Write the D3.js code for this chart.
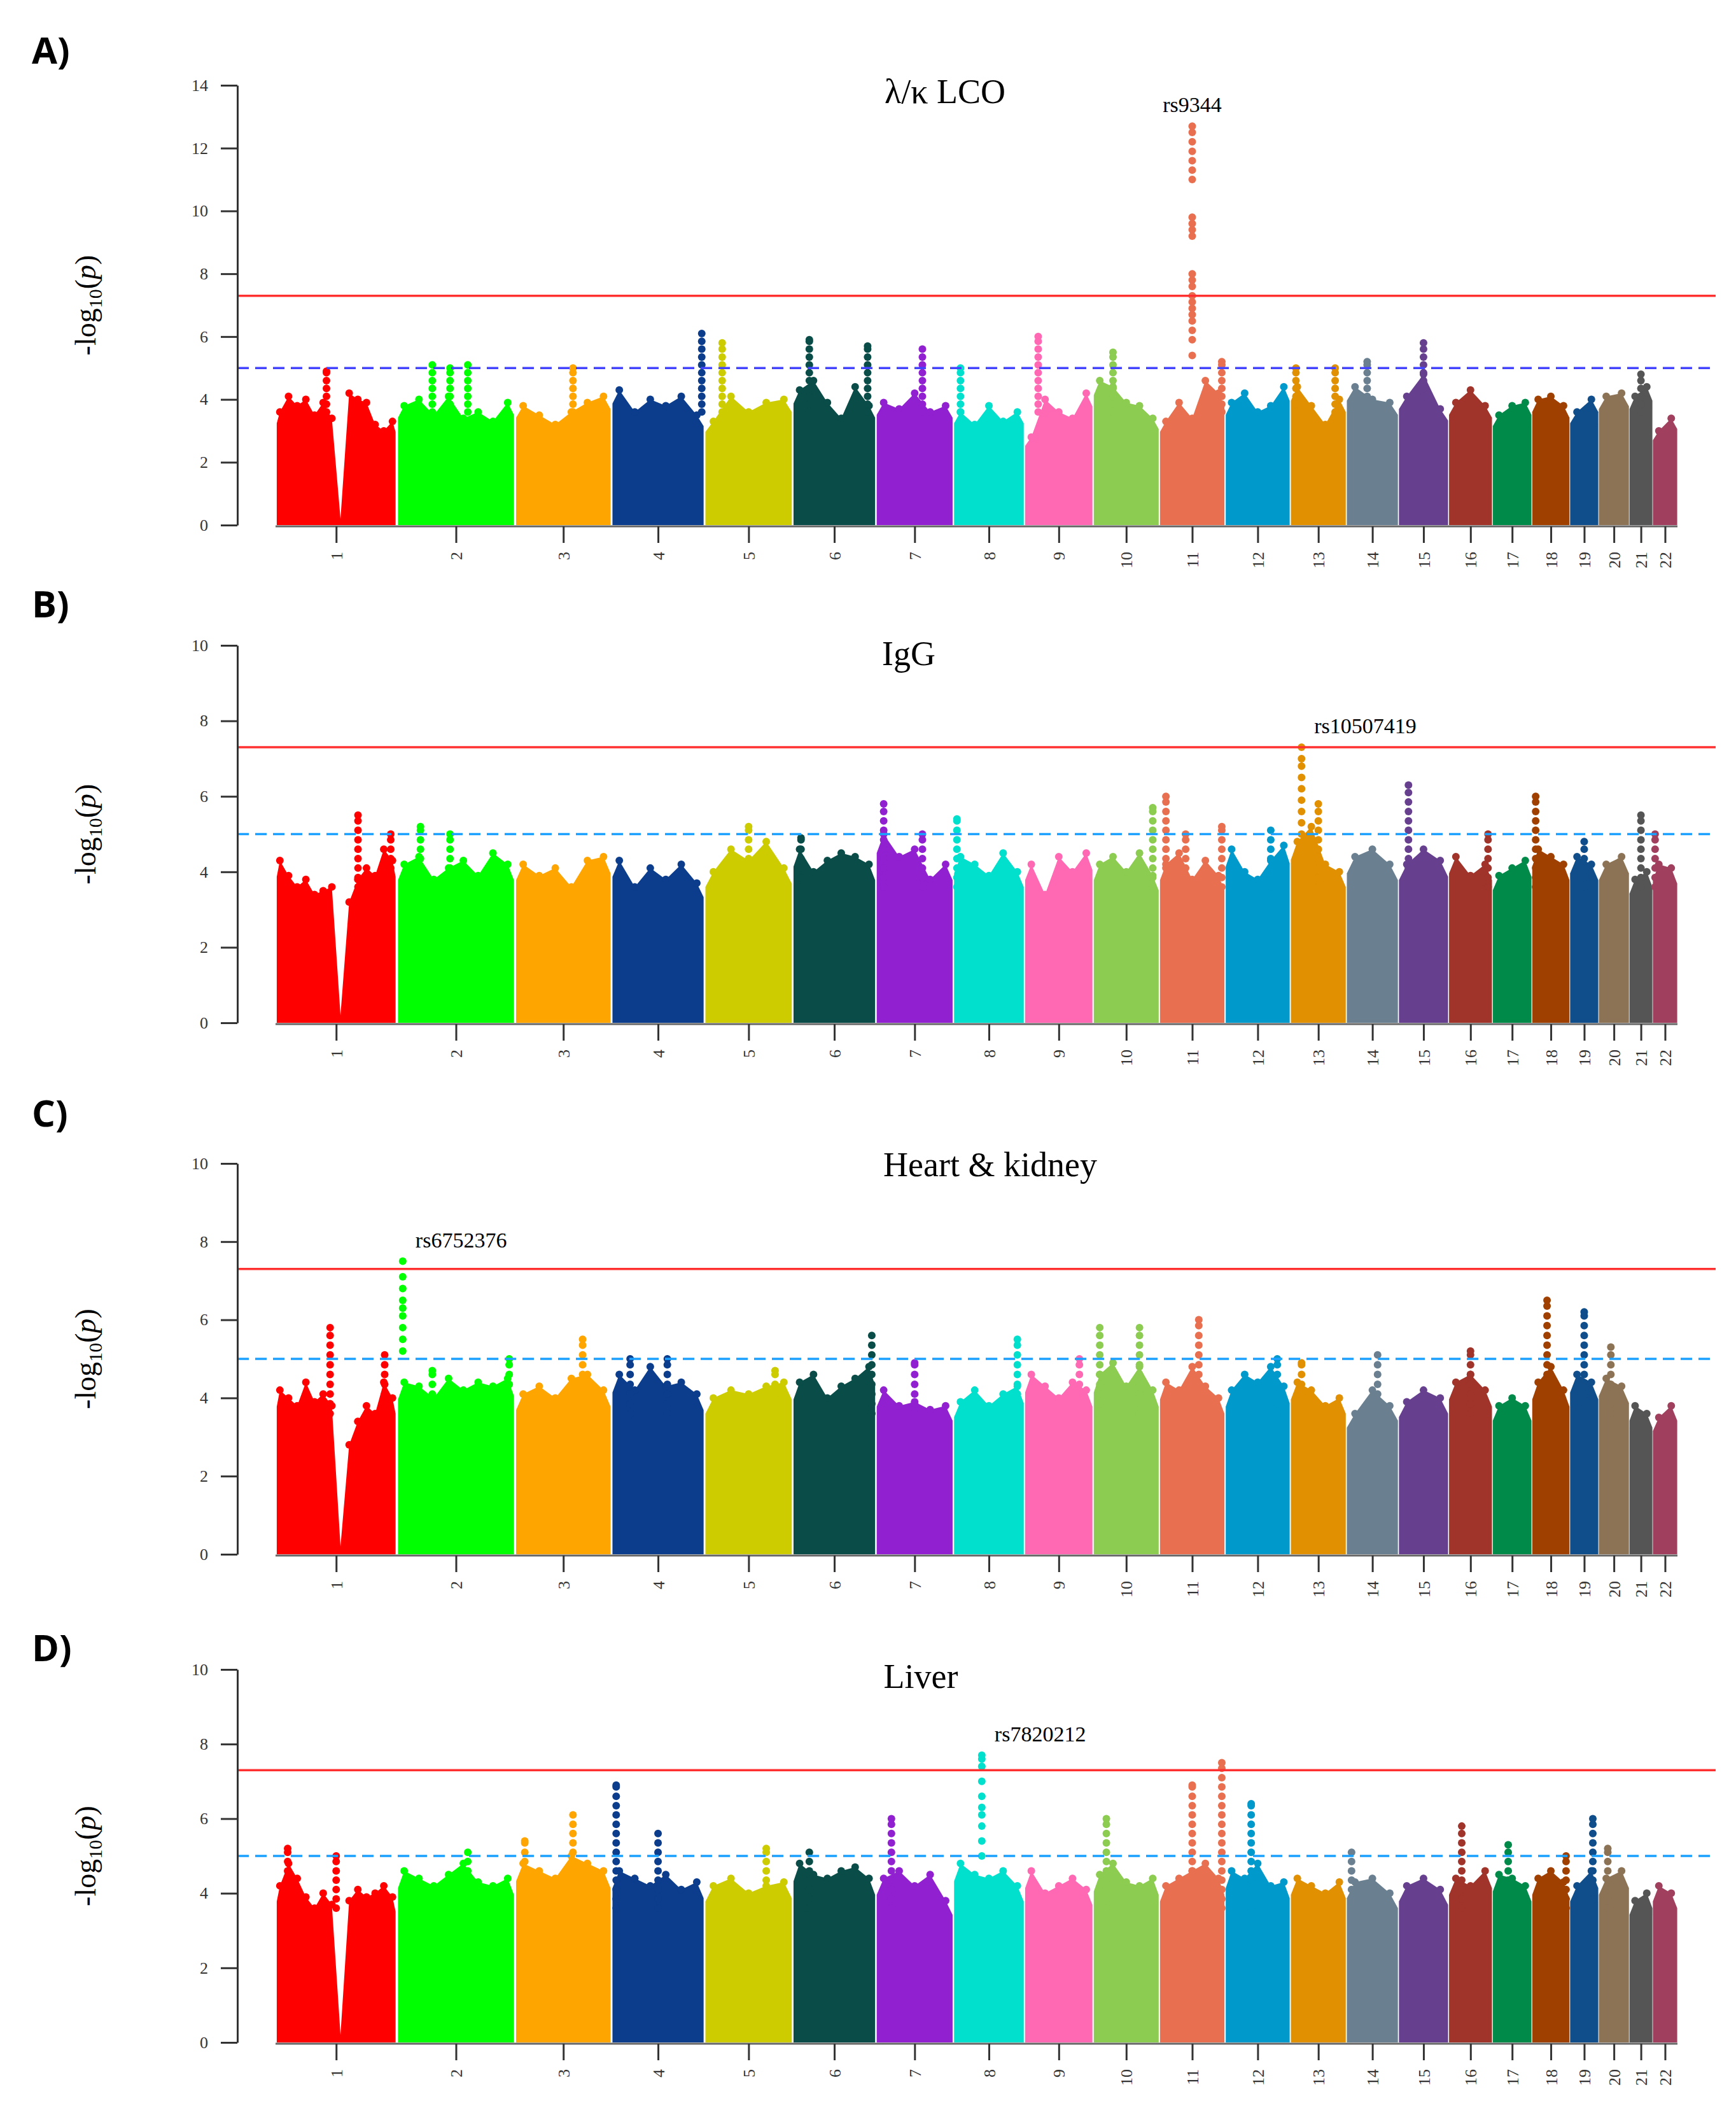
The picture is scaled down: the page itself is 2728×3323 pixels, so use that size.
<!DOCTYPE html>
<html><head><meta charset="utf-8">
<script src="https://cdn.jsdelivr.net/npm/d3@7"></script>
<style>body{margin:0;background:#fff}</style>
</head><body>
<script>
var W = 2728, H = 3323;

// chromosome lengths (Mb)
var chrLen = [249,243,198,191,181,171,159,146,141,136,135,134,115,107,103,90,81,78,59,63,48,51];
var chrColors = ["#ff0000","#00ff00","#ffa500","#0b3d8c","#cccc00","#0a4d48","#9020d0","#00e0cc","#ff69b4","#8ccc50",
  "#e87050","#0099cc","#e09000","#6a8090","#66408f","#a0342a","#008a4a","#a04000","#104e8b","#8c7355","#555555","#a0405e"];

var panelNames = ["A)", "B)", "C)", "D)"];
var panelTitles = ["λ/κ LCO", "IgG", "Heart & kidney", "Liver"];
var yMax = [14, 10, 10, 10];
var yTicksA = [0,2,4,6,8,10,12,14];
var yTicksB = [0,2,4,6,8,10];

// top of the dense band, sampled along each chromosome
var envA = [
 [3.6,4.1,3.8,4.0,3.5,3.9,3.4,0.2,4.2,4.0,3.9,3.2,3.0,3.3],[3.8,4.0,3.5,4.1,3.4,3.6,3.3,3.9],[3.8,3.5,3.2,3.6,3.9,4.1],[4.3,3.6,4.0,3.8,4.1,3.5],
 [3.3,4.1,3.6,3.9,4.0],[4.3,4.6,3.9,3.4,4.4,3.8],[3.9,3.7,4.2,3.6,3.8],[3.6,3.2,3.8,3.3,3.6],[2.8,4.0,3.6,3.4,4.2],[4.6,4.4,3.9,3.8,3.4],
 [3.3,3.9,3.4,4.6,4.2],[3.9,4.2,3.6,3.8,4.4],[4.4,3.8,3.2,4.0],[4.4,4.0,3.9],[4.1,4.8,3.7],[3.9,4.3,3.8],[3.5,3.8,3.9],[4.0,4.1,3.8],[3.6,4.0],[4.1,4.2],[4.1,4.4],[3.0,3.4]];
var envB = [
 [4.3,3.9,3.6,3.8,3.4,3.5,3.6,0.2,3.2,3.8,4.1,3.9,4.6,4.3],[4.2,4.4,3.8,4.1,4.3,3.9,4.5,4.2],[4.2,3.9,4.1,3.6,4.3,4.4],[4.3,3.6,4.1,3.8,4.2,3.7],
 [4.0,4.6,4.3,4.8,4.1],[4.6,4.0,4.3,4.5,4.4,4.2],[5.0,4.4,4.6,3.8,4.2],[4.4,4.2,3.9,4.5,4.0],[4.2,3.4,4.4,4.0,4.5],[4.2,4.4,4.0,4.5,3.9],
 [4.2,4.5,3.8,4.3,3.9],[4.6,4.0,3.8,4.3,4.7],[4.8,5.2,4.2,4.0],[4.4,4.6,4.2],[4.2,4.6,4.3],[4.4,3.9,4.2],[3.9,4.1,4.3],[4.6,4.4,4.2],[4.4,4.2],[4.2,4.4],[3.8,4.0],[4.2,4.1]];
var envC = [
 [4.2,4.0,3.8,4.4,3.9,4.1,3.8,0.2,2.8,3.4,3.8,3.6,4.4,4.0],[4.4,4.3,4.0,4.5,4.2,4.4,4.3,4.5],[4.1,4.3,4.0,4.5,4.6,4.2],[4.6,4.2,4.8,4.3,4.4,4.1],
 [4.0,4.2,4.1,4.3,4.4],[4.4,4.6,4.0,4.3,4.5,4.8],[4.2,3.8,3.9,3.7,3.8],[3.9,4.2,3.8,4.1,4.3],[4.6,4.3,4.0,4.4,4.2],[4.6,4.9,4.3,4.8,4.2],
 [4.4,4.2,4.8,4.3,4.0],[4.2,4.6,4.4,4.8,4.3],[4.4,4.2,3.8,4.0],[3.6,4.2,3.8],[3.9,4.2,4.0],[4.4,4.6,4.2],[3.8,4.0,3.8],[4.4,4.8,4.2],[4.6,4.4],[4.5,4.3],[3.8,3.6],[3.5,3.8]];
var envD = [
 [4.2,4.8,4.4,3.9,3.6,4.0,3.7,0.2,3.8,4.1,3.9,4.0,4.2,3.9],[4.6,4.4,4.2,4.5,4.8,4.3,4.2,4.4],[4.8,4.6,4.4,5.0,4.8,4.6],[4.6,4.4,4.2,4.5,4.1,4.3],
 [4.2,4.4,4.0,4.2,4.3],[4.8,4.5,4.4,4.6,4.7,4.4],[4.4,4.6,4.2,4.5,3.8],[4.8,4.5,4.4,4.6,4.2],[4.6,4.0,4.2,4.4,4.1],[4.5,4.8,4.3,4.2,4.4],
 [4.2,4.4,4.6,4.8,4.4],[4.6,4.4,4.8,4.2,4.3],[4.4,4.2,4.0,4.3],[4.3,4.4,4.0],[4.2,4.4,4.1],[4.4,4.2,4.6],[4.5,4.4,4.2],[4.4,4.6,4.3],[4.2,4.6],[4.4,4.6],[3.8,4.0],[4.2,4.0]];

// isolated tall columns: [chromosome, position fraction, top value]
var peaksA = [[1,0.42,4.9],[2,0.3,5.1],[2,0.45,5.0],[2,0.6,5.1],[3,0.6,5.0],[4,0.97,6.1],[5,0.2,5.8],[6,0.2,5.9],[6,0.9,5.7],
  [7,0.6,5.6],[8,0.1,5.0],[9,0.2,6.0],[10,0.3,5.5],[11,0.95,5.2],[13,0.1,5.0],[13,0.8,5.0],[14,0.4,5.2],[15,0.5,5.8],[21,0.5,4.8]];
var peaksB = [[1,0.68,5.5],[1,0.95,5.0],[2,0.2,5.2],[2,0.45,5.0],[5,0.5,5.2],[6,0.1,4.9],[7,0.1,5.8],[7,0.6,5.0],[8,0.05,5.4],
  [10,0.9,5.7],[11,0.1,6.0],[11,0.4,5.0],[11,0.95,5.2],[12,0.7,5.1],[13,0.5,5.8],[15,0.2,6.3],[16,0.9,5.0],[18,0.1,6.0],
  [19,0.5,4.8],[21,0.5,5.5],[22,0.1,5.0]];
var peaksC = [[1,0.45,5.8],[1,0.9,5.1],[2,0.3,4.7],[2,0.95,5.0],[3,0.7,5.5],[4,0.2,5.0],[4,0.6,5.0],[5,0.8,4.7],[6,0.95,5.6],
  [7,0.5,4.9],[8,0.9,5.5],[9,0.8,5.0],[10,0.1,5.8],[10,0.7,5.8],[11,0.6,6.0],[12,0.8,5.0],[13,0.2,4.9],[14,0.6,5.1],
  [16,0.5,5.2],[18,0.4,6.5],[19,0.5,6.2],[20,0.4,5.3]];
var peaksD = [[1,0.1,5.2],[1,0.5,5.0],[2,0.6,5.1],[3,0.1,5.4],[3,0.6,6.1],[4,0.05,6.9],[4,0.5,5.6],[5,0.7,5.2],[6,0.2,5.1],
  [7,0.2,6.0],[10,0.2,6.0],[11,0.5,6.9],[11,0.95,7.5],[12,0.4,6.4],[14,0.1,5.1],[16,0.3,5.8],[17,0.4,5.3],[18,0.9,5.0],
  [19,0.8,6.0],[20,0.3,5.2]];

// top hits: [chromosome, fraction, label, dot values]
var hitA = [11, 0.5, "rs9344", [5.4,5.9,6.2,6.5,6.7,6.9,7.1,7.3,7.6,7.8,8.0,9.2,9.4,9.6,9.8,11.0,11.3,11.6,11.9,12.2,12.5,12.7]];
var hitB = [13, 0.2, "rs10507419", [5.0,5.3,5.6,5.9,6.2,6.5,6.8,7.0,7.3]];
var hitC = [2, 0.05, "rs6752376", [5.2,5.5,5.8,6.1,6.3,6.5,6.8,7.1,7.5]];
var hitD = [8, 0.4, "rs7820212", [5.0,5.4,5.8,6.1,6.3,6.6,7.0,7.4,7.6,7.7]];

var panels = [
  {env: envA, peaks: peaksA, hit: hitA, ticks: yTicksA, y0: 825, y1: 134, blue: "#4444ff", titleX: 1485, titleY: 162},
  {env: envB, peaks: peaksB, hit: hitB, ticks: yTicksB, y0: 1607, y1: 1014, blue: "#1aa0ff", titleX: 1428, titleY: 1045},
  {env: envC, peaks: peaksC, hit: hitC, ticks: yTicksB, y0: 2442, y1: 1828, blue: "#1aa0ff", titleX: 1556, titleY: 1848},
  {env: envD, peaks: peaksD, hit: hitD, ticks: yTicksB, y0: 3209, y1: 2623, blue: "#1aa0ff", titleX: 1447, titleY: 2652}
];

var offsets = [];
var acc = 0;
chrLen.forEach(function (l) { offsets.push(acc); acc += l; });
var total = acc;

var x = d3.scaleLinear().domain([0, total]).range([433, 2636]);
function pos(c, f) { return offsets[c - 1] + f * chrLen[c - 1]; }

var svg = d3.select("body").append("svg").attr("width", W).attr("height", H)
  .style("font-family", "'Liberation Serif', serif");

panels.forEach(function (p, pi) {
  var y = d3.scaleLinear().domain([0, yMax[pi]]).range([p.y0, p.y1]);
  var g = svg.append("g");

  // dense band per chromosome
  p.env.forEach(function (vals, ci) {
    var n = vals.length;
    var pts = vals.map(function (v, k) {
      return {x: offsets[ci] + chrLen[ci] * (k + 0.5) / n, v: v};
    });
    pts.unshift({x: offsets[ci] + chrLen[ci] * 0.01, v: vals[0] * 0.9});
    pts.push({x: offsets[ci] + chrLen[ci] * 0.99, v: vals[n - 1] * 0.9});
    var area = d3.area().x(function (d) { return x(d.x); }).y0(y(0)).y1(function (d) { return y(d.v); });
    g.append("path").datum(pts).attr("d", area).attr("fill", chrColors[ci]);
    g.selectAll(null).data(pts.slice(1, -1).filter(function (d) { return d.v > 1; })).enter().append("circle")
      .attr("cx", function (d) { return x(d.x); })
      .attr("cy", function (d) { return y(d.v); })
      .attr("r", 6).attr("fill", chrColors[ci]);
  });

  // peaks as stacks of dots
  p.peaks.forEach(function (pk) {
    var vals = d3.range(3.6, pk[2], 0.25).concat([pk[2]]);
    g.selectAll(null).data(vals).enter().append("circle")
      .attr("cx", x(pos(pk[0], pk[1])))
      .attr("cy", function (v) { return y(v); })
      .attr("r", 6).attr("fill", chrColors[pk[0] - 1]);
  });

  var h = p.hit;
  var hx = x(pos(h[0], h[1]));
  g.selectAll(null).data(h[3]).enter().append("circle")
    .attr("cx", hx).attr("cy", function (v) { return y(v); })
    .attr("r", 6).attr("fill", chrColors[h[0] - 1]);
  g.append("text").attr("x", hx + (pi === 0 ? 0 : 20)).attr("y", y(d3.max(h[3])) - 22)
    .attr("text-anchor", pi === 0 ? "middle" : "start").attr("font-size", 34).text(h[2]);

  // threshold lines
  g.append("line").attr("x1", 373).attr("x2", 2696).attr("y1", y(7.3)).attr("y2", y(7.3))
    .attr("stroke", "#ff3030").attr("stroke-width", 3.5);
  g.append("line").attr("x1", 373).attr("x2", 2696).attr("y1", y(5)).attr("y2", y(5))
    .attr("stroke", p.blue).attr("stroke-width", 3.5).attr("stroke-dasharray", "18,10");

  // y axis
  var ya = g.append("g").attr("transform", "translate(373,0)")
    .call(d3.axisLeft(y).tickValues(p.ticks).tickSize(26).tickSizeOuter(0).tickPadding(20));
  ya.selectAll("path, line").attr("stroke", "#333").attr("stroke-width", 3);
  ya.selectAll("text").attr("font-size", 26).attr("font-family", "'Liberation Serif', serif").attr("fill", "#333");

  // x axis
  var centers = chrLen.map(function (l, i) { return offsets[i] + l / 2; });
  var xa = g.append("g").attr("transform", "translate(0," + (p.y0 + 2) + ")")
    .call(d3.axisBottom(x).tickValues(centers).tickFormat(function (d, i) { return i + 1; })
      .tickSize(26).tickSizeOuter(0));
  xa.select("path").attr("stroke", "#666").attr("stroke-width", 3)
    .attr("d", "M" + x(0) + ",0H" + x(total));
  xa.selectAll("line").attr("stroke", "#333").attr("stroke-width", 3);
  xa.selectAll("text").attr("font-size", 26).attr("font-family", "'Liberation Serif', serif").attr("fill", "#333")
    .attr("transform", "translate(0,40) rotate(-90)").attr("text-anchor", "end").attr("dy", "0.35em").attr("y", 0).attr("x", 0);

  // y title
  var yt = g.append("text").attr("transform", "translate(150," + ((p.y0 + p.y1) / 2) + ") rotate(-90)")
    .attr("text-anchor", "middle").attr("font-size", 46);
  yt.append("tspan").text("-log");
  yt.append("tspan").attr("font-size", 30).attr("dy", 10).text("10");
  yt.append("tspan").attr("dy", -10).text("(");
  yt.append("tspan").attr("font-style", "italic").text("p");
  yt.append("tspan").text(")");

  // title + panel letter
  svg.append("text").attr("x", p.titleX).attr("y", p.titleY)
    .attr("text-anchor", "middle").attr("font-size", 54).text(panelTitles[pi]);
  svg.append("text").attr("x", 50).attr("y", [100, 970, 1770, 2610][pi])
    .attr("font-family", "'Open Sans', sans-serif").attr("font-weight", "bold")
    .attr("font-size", 58).text(panelNames[pi]);
});
</script>
</body></html>
